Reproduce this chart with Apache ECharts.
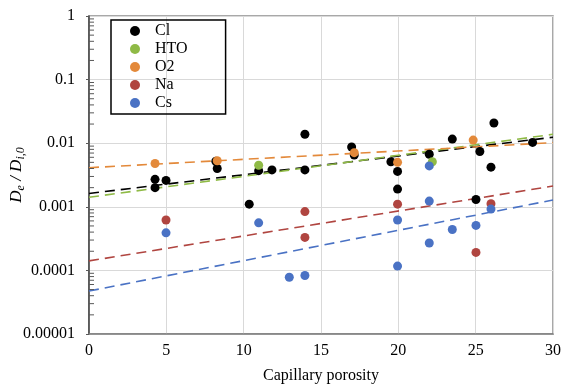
<!DOCTYPE html>
<html>
<head>
<meta charset="utf-8">
<script src="https://cdn.jsdelivr.net/npm/echarts@6/dist/echarts.min.js"></script>
<style>html,body{margin:0;padding:0;background:#fff}#c{width:562px;height:389px}</style>
</head>
<body>
<div id="c"></div>
<script>
// ---- data ----
var seriesNames = ['Cl', 'HTO', 'O2', 'Na', 'Cs'];
var clX = [4.27, 4.27, 4.98, 8.2, 8.29, 10.36, 10.97, 11.83, 13.96, 13.96, 16.98, 17.15, 19.52, 19.95, 19.95, 22.0, 23.49, 25.27, 25.02, 25.99, 26.18, 28.68];
var clY = [0.0027, 0.0020, 0.0026, 0.0052, 0.0040, 0.0011, 0.0037, 0.0038, 0.0138, 0.0038, 0.0087, 0.0065, 0.0051, 0.0036, 0.0019, 0.0067, 0.0116, 0.0074, 0.0013, 0.0042, 0.0208, 0.0103];
var htoX = [10.97, 22.2];
var htoY = [0.0045, 0.0051];
var o2X = [4.27, 8.29, 17.15, 19.95, 24.84];
var o2Y = [0.0048, 0.0053, 0.0071, 0.0050, 0.0112];
var naX = [4.98, 13.96, 13.96, 19.95, 25.99, 25.02];
var naY = [0.00062, 0.00084, 0.00033, 0.0011, 0.00112, 0.000192];
var csX = [4.98, 10.97, 22.0, 22.0, 19.95, 23.49, 25.02, 25.99, 22.0, 19.95, 12.95, 13.96];
var csY = [0.00039, 0.00056, 0.0044, 0.00123, 0.00062, 0.00044, 0.00051, 0.00092, 0.00027, 0.000117, 0.000078, 0.000083];
// trend lines (exponential fits, straight on log axis): values at x = 0 and x = 30
var trendX = [0, 30];
var clTrend = [0.00162, 0.0124];
var htoTrend = [0.00141, 0.0138];
var o2Trend = [0.00412, 0.0102];
var naTrend = [0.000141, 0.00212];
var csTrend = [0.0000474, 0.00128];
var xTicks = [0, 5, 10, 15, 20, 25, 30];
var yTickLabels = ['0.00001', '0.0001', '0.001', '0.01', '0.1', '1'];
var minorFactors = [2, 3, 4, 5, 6, 7, 8, 9];

// ---- build ----
var colors = ['#000000', '#8FBA46', '#E3893A', '#B04540', '#4A72C4'];
var xs = [clX, htoX, o2X, naX, csX];
var ys = [clY, htoY, o2Y, naY, csY];
var trends = [clTrend, htoTrend, o2Trend, naTrend, csTrend];
function zip(a, b) { return a.map(function (v, i) { return [v, b[i]]; }); }

var minorData = [];
for (var d = 0; d < yTickLabels.length - 1; d++) {
  var base = parseFloat(yTickLabels[d]);
  minorFactors.forEach(function (f) { minorData.push([0, base * f]); });
}

var series = [];
trends.forEach(function (t, i) {
  series.push({
    type: 'line', name: seriesNames[i] + ' trend', data: zip(trendX, t),
    symbol: 'none', silent: true, z: 3,
    lineStyle: { color: colors[i], width: 1.6, type: [10, 6] }
  });
});
seriesNames.forEach(function (n, i) {
  series.push({
    type: 'scatter', name: n, data: zip(xs[i], ys[i]), symbolSize: 9, z: 4 + i,
    itemStyle: { color: colors[i], opacity: 1 }
  });
});
series.push({
  type: 'custom', name: 'minor', silent: true, data: minorData, z: 10,
  renderItem: function (params, api) {
    var p = api.coord([api.value(0), api.value(1)]);
    return { type: 'line', shape: { x1: p[0], y1: p[1], x2: p[0] + 5, y2: p[1] },
      style: { stroke: '#595959', lineWidth: 1 } };
  }
});

var serif = 'Liberation Serif, Times New Roman, serif';
var chart = echarts.init(document.getElementById('c'), null, { renderer: 'canvas' });
chart.setOption({
  animation: false,
  grid: { left: 89, right: 9, top: 16, bottom: 55, show: true, borderColor: '#8c8c8c', borderWidth: 1.5,
    containLabel: false, outerBoundsMode: 'none' },
  legend: {
    data: seriesNames, orient: 'vertical', left: 111, top: 20,
    borderColor: '#000', borderWidth: 1.5, padding: [3, 38, 3, 19], itemGap: 2,
    itemWidth: 10, itemHeight: 10, icon: 'circle',
    textStyle: { fontFamily: serif, fontSize: 16, color: '#000', padding: [0, 0, 0, 10], lineHeight: 16 }
  },
  xAxis: {
    type: 'value', min: 0, max: 30, interval: 5,
    name: 'Capillary porosity', nameLocation: 'middle', nameGap: 34, nameMoveOverlap: false,
    nameTextStyle: { fontFamily: serif, fontSize: 16, color: '#000' },
    axisLine: { lineStyle: { color: '#7f7f7f', width: 1.5 } },
    axisTick: { show: false },
    axisLabel: { fontFamily: serif, fontSize: 16, color: '#000', margin: 9,
      formatter: function (v) { return xTicks.indexOf(v) >= 0 ? String(v) : ''; } },
    splitLine: { show: true, lineStyle: { color: '#d9d9d9', width: 1 } }
  },
  yAxis: {
    type: 'log', logBase: 10, min: 0.00001, max: 1,
    name: '{i|D}{s|e}{i| / D}{s|i,0}', nameLocation: 'middle', nameGap: 62, nameMoveOverlap: false,
    nameTextStyle: { fontFamily: serif, fontSize: 17, color: '#000',
      rich: {
        i: { fontFamily: serif, fontSize: 17, fontStyle: 'italic', color: '#000' },
        s: { fontFamily: serif, fontSize: 12, fontStyle: 'italic', color: '#000', verticalAlign: 'bottom', padding: [8, 0, 0, 0] }
      } },
    axisLine: { show: true, lineStyle: { color: '#404040', width: 1.5 } },
    axisTick: { show: true, inside: false, length: 3, lineStyle: { color: '#595959' } },
    axisLabel: { fontFamily: serif, fontSize: 16, color: '#000', margin: 14,
      formatter: function (v) {
        var k = Math.round(Math.log10(v)) + 5;
        return yTickLabels[k] !== undefined ? yTickLabels[k] : '';
      } },
    splitLine: { show: true, lineStyle: { color: '#d9d9d9', width: 1 } }
  },
  series: series
});
</script>
</body>
</html>
